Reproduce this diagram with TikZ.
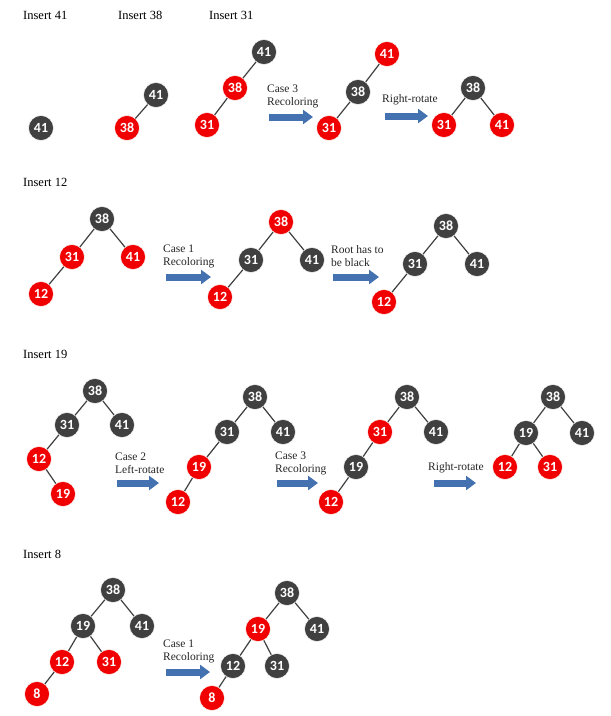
\documentclass[tikz,border=0pt]{standalone}
\usepackage{fontspec}
\setmainfont{Liberation Serif}
\newfontfamily\keyfont{Carlito}
\usetikzlibrary{arrows.meta}
\definecolor{rbblack}{RGB}{64,64,64}
\definecolor{rbred}{RGB}{240,0,0}
\definecolor{rbarrow}{RGB}{68,114,176}
\tikzset{
  rbnode/.style={circle, minimum size=25pt, inner sep=0pt, text=white,
                 draw=white, line width=0.5pt,
                 font=\keyfont\bfseries\fontsize{14}{14}\selectfont},
  bnode/.style ={rbnode, fill=rbblack},
  rnode/.style ={rbnode, fill=rbred},
  tedge/.style ={line width=1.2pt, rbblack},
  blockarrow/.style={line width=7pt, rbarrow, -{Triangle[length=10pt,width=14pt]}},
  title/.style ={anchor=west, inner sep=0pt, font=\fontsize{12.5}{14}\selectfont},
  caption/.style={anchor=west, inner sep=0pt, align=left, text=black!85,
                  font=\fontsize{11.5}{13}\selectfont},
}

\begin{document}
\begin{tikzpicture}[x=1pt, y=-1pt]
  \fill[white] (0,0) rectangle (611,716);
  % Insert 41, 38, 31
  \node[title] (t41) at (23,15)  {Insert 41};
  \node[title] (t38) at (118,15) {Insert 38};
  \node[title] (t31) at (209,15) {Insert 31};
  \node[bnode] (a41) at (41,128) {41};
  \node[bnode] (b41) at (156,95) {41};
  \node[rnode] (b38) at (127,128) {38};
  \node[bnode] (c41) at (264,52) {41};
  \node[rnode] (c38) at (235,88) {38};
  \node[rnode] (c31) at (207,125) {31};
  \node[caption] (c3a) at (267,96) {Case 3\\Recoloring};
  \coordinate (s1) at (269,117); \coordinate (e1) at (313,117);
  \node[rnode] (d41) at (387,54) {41};
  \node[bnode] (d38) at (358,92) {38};
  \node[rnode] (d31) at (329,128) {31};
  \node[caption] (rra) at (382,100) {Right-rotate};
  \coordinate (s2) at (385,116); \coordinate (e2) at (428,116);
  \node[bnode] (e38) at (473,88) {38};
  \node[rnode] (e31) at (444,125) {31};
  \node[rnode] (e41) at (502,125) {41};
  % Insert 12
  \node[title] (t12) at (23,182) {Insert 12};
  \node[bnode] (f38) at (102,219) {38};
  \node[rnode] (f31) at (72,257) {31};
  \node[rnode] (f41) at (133,257) {41};
  \node[rnode] (f12) at (41,294) {12};
  \node[caption] (c1a) at (163,256) {Case 1\\Recoloring};
  \coordinate (s3) at (166,277); \coordinate (e3) at (211,277);
  \node[rnode] (g38) at (281,222) {38};
  \node[bnode] (g31) at (251,260) {31};
  \node[bnode] (g41) at (312,260) {41};
  \node[rnode] (g12) at (220,297) {12};
  \node[caption] (rtb) at (331,256) {Root has to\\be black};
  \coordinate (s4) at (333,277); \coordinate (e4) at (379,277);
  \node[bnode] (h38) at (446,226) {38};
  \node[bnode] (h31) at (415,264) {31};
  \node[bnode] (h41) at (477,264) {41};
  \node[rnode] (h12) at (384,302) {12};
  % Insert 19
  \node[title] (t19) at (23,354) {Insert 19};
  \node[bnode] (i38) at (95,391) {38};
  \node[bnode] (i31) at (67,425) {31};
  \node[bnode] (i41) at (122,425) {41};
  \node[rnode] (i12) at (39,459) {12};
  \node[rnode] (i19) at (63,494) {19};
  \node[caption] (c2a) at (115,463) {Case 2\\Left-rotate};
  \coordinate (s5) at (117,483); \coordinate (e5) at (159,483);
  \node[bnode] (j38) at (255,397) {38};
  \node[bnode] (j31) at (227,432) {31};
  \node[bnode] (j41) at (283,432) {41};
  \node[rnode] (j19) at (199,467) {19};
  \node[rnode] (j12) at (178,502) {12};
  \node[caption] (c3b) at (275,463) {Case 3\\Recoloring};
  \coordinate (s6) at (277,483); \coordinate (e6) at (318,483);
  \node[bnode] (k38) at (407,397) {38};
  \node[rnode] (k31) at (380,432) {31};
  \node[bnode] (k41) at (436,432) {41};
  \node[bnode] (k19) at (356,467) {19};
  \node[rnode] (k12) at (331,502) {12};
  \node[caption] (rrb) at (428,468) {Right-rotate};
  \coordinate (s7) at (434,483); \coordinate (e7) at (476,483);
  \node[bnode] (l38) at (553,397) {38};
  \node[bnode] (l19) at (526,433) {19};
  \node[bnode] (l41) at (582,433) {41};
  \node[rnode] (l12) at (505,467) {12};
  \node[rnode] (l31) at (550,467) {31};
  % Insert 8
  \node[title] (t8) at (23,554) {Insert 8};
  \node[bnode] (m38) at (113,590) {38};
  \node[bnode] (m19) at (83,626) {19};
  \node[bnode] (m41) at (142,626) {41};
  \node[rnode] (m12) at (62,662) {12};
  \node[rnode] (m31) at (109,662) {31};
  \node[rnode] (m8)  at (37,694) {8};
  \node[caption] (c1b) at (163,651) {Case 1\\Recoloring};
  \coordinate (s8) at (166,672); \coordinate (e8) at (210,672);
  \node[bnode] (n38) at (287,593) {38};
  \node[rnode] (n19) at (258,629) {19};
  \node[bnode] (n41) at (317,629) {41};
  \node[bnode] (n12) at (233,666) {12};
  \node[bnode] (n31) at (277,666) {31};
  \node[rnode] (n8)  at (212,698) {8};

  \foreach \u/\v in {b41/b38, c41/c38, c38/c31, d41/d38, d38/d31, e38/e31, e38/e41,
                     f38/f31, f38/f41, f31/f12, g38/g31, g38/g41, g31/g12,
                     h38/h31, h38/h41, h31/h12,
                     i38/i31, i38/i41, i31/i12, i12/i19, j38/j31, j38/j41, j31/j19, j19/j12,
                     k38/k31, k38/k41, k31/k19, k19/k12, l38/l19, l38/l41, l19/l12, l19/l31,
                     m38/m19, m38/m41, m19/m12, m19/m31, m12/m8,
                     n38/n19, n38/n41, n19/n12, n19/n31, n12/n8}
    \draw[tedge] (\u) -- (\v);
  \foreach \i in {1,...,8}
    \draw[blockarrow] (s\i) -- (e\i);
\end{tikzpicture}
\end{document}
